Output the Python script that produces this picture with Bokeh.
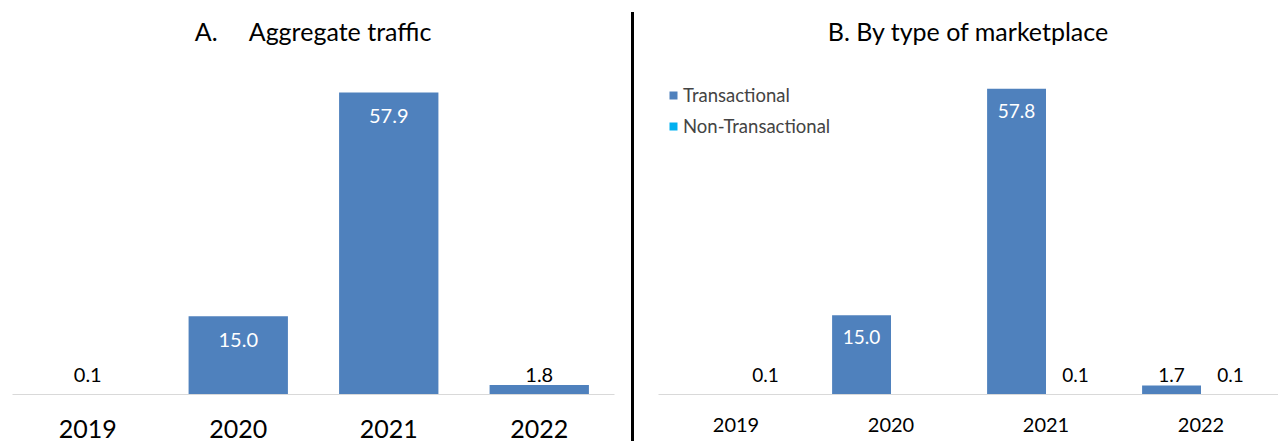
from bokeh.plotting import figure
from bokeh.models import ColumnDataSource, FactorRange, Range1d, Legend, LegendItem, Div
from bokeh.transform import dodge
from bokeh.layouts import row
from bokeh.embed import file_html
from bokeh.resources import INLINE
from bokeh.core.properties import value

# ---------------- data ----------------
years = ["2019", "2020", "2021", "2022"]
aggregate = [0.1, 15.0, 57.9, 1.8]
transactional = [None, 15.0, 57.8, 1.7]
non_transactional = [0.1, None, 0.1, 0.1]
series_names = ["Transactional", "Non-Transactional"]
title_a = "A.\u00a0\u00a0\u00a0\u00a0 Aggregate traffic"
title_b = "B. By type of marketplace"

BLUE = "#4F81BD"
CYAN = "#00B0F0"
FONT = "Lato"
INSIDE_MIN = 10.0   # values at least this big get a white label inside the bar
OUT_FLOOR = 3.7     # small-value labels sit no lower than this


def split_labels(cats, vals):
    inside = dict(x=[], y=[], t=[])
    outside = dict(x=[], y=[], t=[])
    for c, v in zip(cats, vals):
        if v is None:
            continue
        if v >= INSIDE_MIN:
            inside["x"].append(c); inside["y"].append(v); inside["t"].append(f"{v:.1f}")
        else:
            outside["x"].append(c); outside["y"].append(max(v, OUT_FLOOR)); outside["t"].append(f"{v:.1f}")
    return ColumnDataSource(inside), ColumnDataSource(outside)


def style(p, label_size, standoff):
    p.xgrid.visible = False
    p.ygrid.visible = False
    p.yaxis.visible = False
    p.outline_line_color = None
    p.xaxis.axis_line_color = "#D9D9D9"
    p.xaxis.axis_line_width = 1
    p.xaxis.major_tick_line_color = None
    p.xaxis.minor_tick_line_color = None
    p.xaxis.major_label_text_font = FONT
    p.xaxis.major_label_text_font_size = label_size
    p.xaxis.major_label_text_color = "#000000"
    p.xaxis.major_label_standoff = standoff
    p.title.text_font = FONT
    p.title.text_font_style = "normal"
    p.title.text_font_size = "25px"
    p.title.align = "center"
    p.title.text_color = "#000000"


# ---------------- panel A ----------------
pA = figure(width=631, height=441, x_range=FactorRange(*years), y_range=Range1d(0, 65.95),
            output_backend="svg", toolbar_location=None, title=title_a,
            min_border_left=12, min_border_right=17, min_border_top=50, min_border_bottom=47)
style(pA, "25px", 19)
srcA = ColumnDataSource(dict(x=years, top=aggregate))
pA.vbar(x="x", top="top", width=0.66, source=srcA, fill_color=BLUE, line_color=None)
inA, outA = split_labels(years, aggregate)
pA.text(x="x", y="y", text="t", source=inA, text_align="center", text_baseline="top",
        y_offset=17, text_font=value(FONT), text_font_size="20px", text_color="white")
pA.text(x="x", y="y", text="t", source=outA, text_align="center", text_baseline="middle",
        text_font=value(FONT), text_font_size="20px", text_color="black")

# ---------------- separator ----------------
sep = Div(text="", width=3, height=429, margin=(12, 0, 0, 0),
          styles={"background-color": "black"})

# ---------------- panel B ----------------
pB = figure(width=644, height=441, x_range=FactorRange(*years), y_range=Range1d(0, 65.04),
            output_backend="svg", toolbar_location=None, title=title_b,
            min_border_left=24, min_border_right=0, min_border_top=50, min_border_bottom=45)
style(pB, "20px", 17)

off = 0.19
rT = pB.vbar(x=dodge("x", -off, range=pB.x_range), top="top", width=0.38,
             source=ColumnDataSource(dict(x=[y for y, v in zip(years, transactional) if v is not None],
                                          top=[v for v in transactional if v is not None])),
             fill_color=BLUE, line_color=None)
rN = pB.vbar(x=dodge("x", off, range=pB.x_range), top="top", width=0.38,
             source=ColumnDataSource(dict(x=[y for y, v in zip(years, non_transactional) if v is not None],
                                          top=[v for v in non_transactional if v is not None])),
             fill_color=CYAN, line_color=None)

for vals, o in ((transactional, -off), (non_transactional, off)):
    si, so = split_labels(years, vals)
    pB.text(x=dodge("x", o, range=pB.x_range), y="y", text="t", source=si, text_align="center",
            text_baseline="top", y_offset=15, text_font=value(FONT), text_font_size="19px",
            text_color="white")
    pB.text(x=dodge("x", o, range=pB.x_range), y="y", text="t", source=so, text_align="center",
            text_baseline="middle", text_font=value(FONT), text_font_size="19px",
            text_color="black")

legend = Legend(items=[LegendItem(label=series_names[0], renderers=[rT]),
                       LegendItem(label=series_names[1], renderers=[rN])],
                location=(10, 257), orientation="vertical",
                glyph_width=10, glyph_height=10, label_height=22, spacing=9,
                label_standoff=5, padding=0, margin=0,
                label_text_font=FONT, label_text_font_size="18.5px",
                border_line_color=None, background_fill_alpha=0)
pB.add_layout(legend)

layout = row(pA, sep, pB)
open("out.html", "w").write(file_html(layout, INLINE))
